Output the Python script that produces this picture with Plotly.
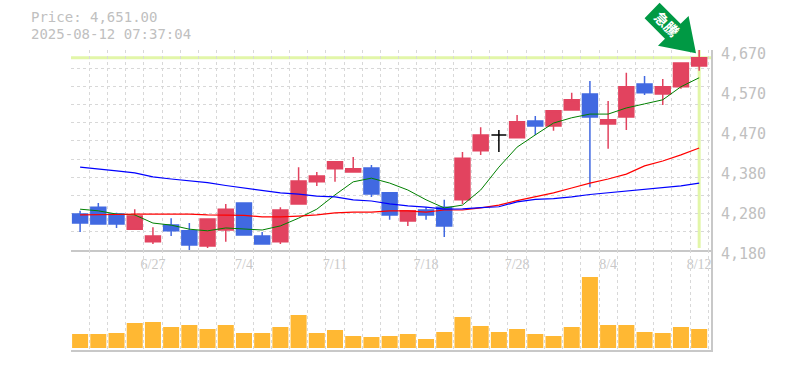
import plotly.graph_objects as go

dates = ["6/23","6/24","6/25","6/26","6/27","6/30","7/1","7/2","7/3","7/4","7/7","7/8","7/9","7/10","7/11","7/14","7/15","7/16","7/17","7/18",
         "7/22","7/23","7/24","7/25","7/28","7/29","7/30","7/31","8/1","8/4","8/5","8/6","8/7","8/8","8/12"]
opens = [4268,4285,4268,4231,4200,4241,4227,4190,4229,4295,4214,4200,4293,4347,4379,4371,4381,4320,4251,4278,
         4285,4303,4423,4462,4455,4496,4484,4523,4562,4489,4506,4587,4562,4580,4631]
highs = [4276,4295,4271,4280,4236,4258,4246,4256,4293,4295,4224,4285,4383,4371,4396,4408,4388,4322,4276,4285,
         4303,4420,4481,4474,4511,4508,4521,4565,4594,4545,4614,4606,4599,4638,4670]
lows = [4224,4244,4234,4231,4195,4214,4178,4185,4200,4217,4195,4195,4293,4337,4347,4369,4310,4254,4239,4254,
        4212,4293,4413,4420,4453,4462,4472,4523,4334,4428,4474,4560,4535,4575,4619]
closes = [4246,4244,4244,4263,4214,4227,4192,4256,4280,4217,4195,4278,4349,4361,4396,4379,4317,4266,4276,4266,
          4239,4405,4462,4462,4494,4484,4521,4548,4506,4499,4580,4565,4580,4638,4651]
ma_green = [4280,4276,4268,4266,4246,4241,4231,4227,4234,4231,4229,4239,4258,4280,4315,4347,4356,4344,4327,4303,
            4283,4290,4327,4383,4432,4462,4491,4504,4513,4513,4528,4538,4548,4580,4602]
ma_red = [4266,4266,4267,4268,4268,4268,4268,4266,4266,4265,4261,4261,4263,4266,4271,4273,4273,4276,4276,4273,
          4278,4278,4283,4290,4301,4310,4320,4332,4344,4354,4366,4386,4398,4413,4430]
ma_blue = [4383,4379,4374,4369,4359,4354,4349,4345,4338,4332,4325,4320,4317,4312,4310,4303,4300,4293,4288,4285,
           4280,4281,4284,4286,4298,4304,4306,4310,4316,4320,4325,4328,4332,4337,4344]
volumes = [14,14,15,25,26,21,23,19,23,15,15,21,33,15,18,12,11,12,14,9,16,31,22,16,19,14,12,21,71,23,23,16,15,21,19]
price_ticks = [4180,4278,4376,4474,4572,4670]
price_labels = ["4,180","4,280","4,380","4,470","4,570","4,670"]
date_tick_index = [4,9,14,19,24,29,34]
current_price = 4651
title_lines = ["Price: 4,651.00","2025-08-12 07:37:04"]
badge_text = "急騰"

W, H = 785, 370
L, R, T, B = 70.9, 710.7, 50, 350
MONO = "DejaVu Sans Mono"
GREY = "#c0c0c0"
GRID = "#d8d8d8"
UP, DOWN = "#e2435f", "#4169e1"
idx = list(range(len(dates)))

def px(x): return (x - L) / (R - L)
def py(y): return (B - y) / (B - T)

fig = go.Figure()
for name, vals, col, w in [("MA5", ma_green, "#008000", 1), ("MA25", ma_red, "#ff0000", 1.2), ("MA75", ma_blue, "#0000ff", 1.2)]:
    fig.add_trace(go.Scatter(x=idx, y=vals, mode="lines", name=name, line=dict(color=col, width=w, shape="linear"), xaxis="x", yaxis="y"))

doji = [i for i in idx if opens[i] == closes[i]]
body = [i for i in idx if opens[i] != closes[i]]
fig.add_trace(go.Candlestick(x=body, open=[opens[i] for i in body], high=[highs[i] for i in body], low=[lows[i] for i in body], close=[closes[i] for i in body],
    increasing=dict(line=dict(color=UP, width=1.5), fillcolor=UP), decreasing=dict(line=dict(color=DOWN, width=1.5), fillcolor=DOWN),
    whiskerwidth=0, xaxis="x", yaxis="y"))
fig.add_trace(go.Candlestick(x=doji, open=[opens[i] for i in doji], high=[highs[i] for i in doji], low=[lows[i] for i in doji], close=[closes[i] for i in doji],
    increasing=dict(line=dict(color="#000000", width=1.5), fillcolor="#000000"), decreasing=dict(line=dict(color="#000000", width=1.5), fillcolor="#000000"),
    whiskerwidth=0, xaxis="x", yaxis="y"))
fig.add_trace(go.Bar(x=idx, y=volumes, width=0.88, marker=dict(color="#ffb833", line_width=0), xaxis="x2", yaxis="y2"))

xminor = dict(tick0=-0.5, dtick=1, showgrid=True, gridcolor=GRID, griddash="3px,3px", gridwidth=1, ticklen=0)
xrange = [-0.5, 34.65]
fig.update_layout(
    width=W, height=H, margin=dict(l=L, r=W-R, t=T, b=H-B, pad=0, autoexpand=False),
    paper_bgcolor="white", plot_bgcolor="white", showlegend=False, boxmode="overlay", boxgap=0.18, boxgroupgap=0,
    font=dict(family=MONO, color=GREY),
    xaxis=dict(domain=[0,1], range=xrange, anchor="y", rangeslider=dict(visible=False), showgrid=False, zeroline=False, minor=xminor,
               tickmode="array", tickvals=date_tick_index, ticktext=[dates[i] for i in date_tick_index], ticks="", ticklabelstandoff=0,
               tickfont=dict(family="Liberation Sans Narrow", size=14, color="#c8c8c8"), showline=True, linecolor="#c8c8c8", linewidth=2),
    xaxis2=dict(domain=[0,1], range=xrange, anchor="y2", showgrid=False, zeroline=False, minor=xminor, showticklabels=False, ticks="",
                showline=True, linecolor="#c8c8c8", linewidth=2),
    yaxis=dict(domain=[1/3,1], range=[4180,4670], anchor="x", side="right", showgrid=False, zeroline=False,
               minor=dict(tick0=4180, dtick=490/11, showgrid=True, gridcolor=GRID, griddash="3px,3px", gridwidth=1, ticklen=0),
               tickmode="array", tickvals=price_ticks, ticktext=price_labels, ticks="", ticklabelstandoff=5, ticklabelshift=4,
               tickfont=dict(family=MONO, size=15, color=GREY), showline=True, linecolor="#c8c8c8", linewidth=2),
    yaxis2=dict(domain=[0,1/3], range=[-2,98], anchor="x2", side="right", showgrid=False, zeroline=False, showticklabels=False, ticks="",
                showline=True, linecolor="#c8c8c8", linewidth=2),
    shapes=[
        dict(type="line", xref="paper", yref="y", x0=0, x1=1, y0=current_price, y1=current_price, line=dict(color="#e2f6a8", width=3), layer="below"),
        dict(type="line", xref="x", yref="y", x0=idx[-1], x1=idx[-1], y0=4185, y1=4670, line=dict(color="#e2f6a8", width=3), layer="below"),
        dict(type="path", xref="paper", yref="paper", fillcolor="#009944", line=dict(width=0), layer="above",
             path="M " + " L ".join(f"{px(x):.5f},{py(y):.5f}" for x, y in
                [(659.3,2.7),(644.3,18.3),(664.7,38.7),(657.7,45.7),(695.7,53.3),(688.3,16),(680.3,23.7)]) + " Z"),
    ],
    annotations=[
        dict(text=title_lines[0], xref="paper", yref="paper", x=px(28.5), y=py(17.2), xanchor="left", yanchor="middle", showarrow=False, font=dict(family=MONO, size=14, color=GREY)),
        dict(text=title_lines[1], xref="paper", yref="paper", x=px(28.5), y=py(34), xanchor="left", yanchor="middle", showarrow=False, font=dict(family=MONO, size=14, color=GREY)),
        dict(text=badge_text, xref="paper", yref="paper", x=px(667), y=py(24), xanchor="center", yanchor="middle", showarrow=False, textangle=45,
             font=dict(family="Noto Sans CJK JP", size=14, color="white", weight="bold")),
    ],
)
fig.write_html("out.html", config={"displayModeBar": False}, post_script="document.body.style.margin='0';")
